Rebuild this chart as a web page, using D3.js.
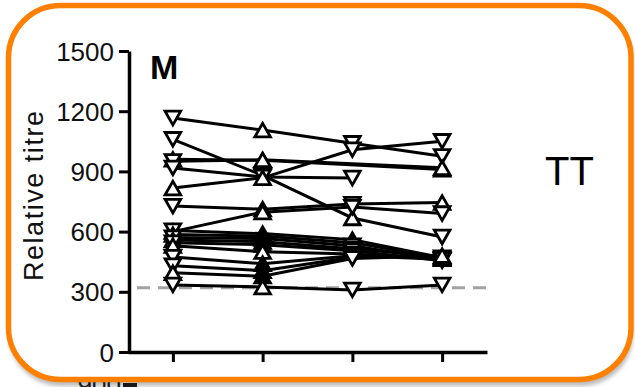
<!DOCTYPE html>
<html>
<head>
<meta charset="utf-8">
<script src="https://cdn.jsdelivr.net/npm/d3@7"></script>
<style>
  html, body { margin: 0; padding: 0; background: #ffffff; }
  svg { display: block; }
  text { font-family: "Liberation Sans", Arial, Helvetica, sans-serif; }
</style>
</head>
<body>
<svg id="chart" width="635" height="387"></svg>
<script>
// ---------- data ----------
const timepoints = ["T1", "T2", "T3", "T4"];
const yTicks = [0, 300, 600, 900, 1200, 1500];
const cutoff = 320;
const panelLabel = "M";
const sideLabel = "TT";
const yTitle = "Relative titre";
const belowLabel = "900";

// one array per subject: relative titre at T1..T4 (null = not measured)
const s01 = [1166, 1106, 1040, 975];
const s02 = [1060, 880, 668, 573];
const s03 = [960, 955, null, 910];
const s04 = [950, 958, null, 918];
const s05 = [917, 872, 867, null];
const s06 = [817, 868, 1008, 1050];
const s07 = [727, 712, 737, 745];
const s08 = [600, 697, 722, 690];
const s09 = [605, 590, 560, 470];
const s10 = [585, 578, 545, 468];
const s11 = [570, 565, 530, 458];
const s12 = [558, 550, 515, 475];
const s13 = [545, 535, 505, 455];
const s14 = [530, 500, 488, 465];
const s15 = [473, 440, 480, 462];
const s16 = [430, 405, 472, null];
const s17 = [395, 378, 466, 480];
const s18 = [334, 324, 309, 334];
const subjects = [s01, s02, s03, s04, s05, s06, s07, s08, s09, s10, s11, s12, s13, s14, s15, s16, s17, s18];
// symbol per point: v = open down-triangle, a = open up-triangle, A = filled up-triangle
const symbols = ["vavv", "vvav", "aaaa", "vava", "vvvv", "aavv", "vava", "aavv",
                 "vAav", "aAaa", "vAvv", "aAva", "vAvv", "aavA", "vAvv", "vAvv", "aAva", "vavv"];

// ---------- drawing ----------
const svg = d3.select("#chart");
const defs = svg.append("defs");
const blur = defs.append("filter").attr("id", "shadow")
  .attr("x", "-10%").attr("y", "-10%").attr("width", "120%").attr("height", "130%");
blur.append("feGaussianBlur").attr("stdDeviation", 2);

// card shadow
svg.append("rect")
  .attr("x", 9).attr("y", 10).attr("width", 624).attr("height", 376)
  .attr("rx", 52).attr("ry", 52)
  .attr("fill", "#b9b9b9").attr("filter", "url(#shadow)");

// partly hidden label of the panel below
svg.append("text")
  .attr("x", 121).attr("y", 394)
  .attr("text-anchor", "end")
  .attr("font-size", 26).attr("fill", "#1a1a1a")
  .text(belowLabel);
svg.append("line")
  .attr("x1", 123).attr("x2", 137).attr("y1", 385).attr("y2", 385)
  .attr("stroke", "#1a1a1a").attr("stroke-width", 4);

// card
svg.append("rect")
  .attr("x", 8.5).attr("y", 5.5).attr("width", 622.5).attr("height", 374)
  .attr("rx", 52).attr("ry", 52)
  .attr("fill", "#ffffff").attr("stroke", "#ff8000").attr("stroke-width", 5.5);

const x = d3.scalePoint().domain(timepoints).range([128, 487]).padding(0.5);
const y = d3.scaleLinear().domain([0, 1500]).range([352, 51]);

// cutoff dashed line
svg.append("line")
  .attr("x1", 137).attr("x2", 486)
  .attr("y1", y(cutoff)).attr("y2", y(cutoff))
  .attr("stroke", "#a3a3a3").attr("stroke-width", 3)
  .attr("stroke-dasharray", "13,8");

// axes
const yAxis = svg.append("g")
  .attr("transform", "translate(129,0)")
  .call(d3.axisLeft(y).tickValues(yTicks).tickFormat(d3.format("d"))
        .tickSize(10).tickSizeOuter(0).tickPadding(5));
yAxis.select(".domain").attr("stroke", "#000").attr("stroke-width", 3.5);
yAxis.selectAll(".tick line").attr("stroke", "#000").attr("stroke-width", 3);
yAxis.selectAll(".tick text")
  .attr("font-size", 26).attr("fill", "#111")
  .attr("font-family", "'Liberation Sans', Arial, sans-serif")
  .attr("dy", "0.35em");

const xAxis = svg.append("g")
  .attr("transform", "translate(0,352)")
  .call(d3.axisBottom(x).tickSize(10).tickSizeOuter(0).tickFormat(""));
xAxis.select(".domain").attr("stroke", "#000").attr("stroke-width", 3.5);
xAxis.selectAll(".tick line").attr("stroke", "#000").attr("stroke-width", 3);

// y title
svg.append("text")
  .attr("transform", "translate(43,196) rotate(-90)")
  .attr("text-anchor", "middle")
  .attr("font-size", 27).attr("fill", "#111")
  .attr("textLength", 170).attr("lengthAdjust", "spacing")
  .text(yTitle);

// panel label
svg.append("text")
  .attr("x", 150).attr("y", 79)
  .attr("font-size", 34).attr("font-weight", "bold").attr("fill", "#000")
  .text(panelLabel);

// side label
svg.append("text")
  .attr("x", 545).attr("y", 185)
  .attr("font-size", 40).attr("fill", "#000")
  .text(sideLabel);

// data lines
const pts = subjects.map((vals, i) =>
  vals.map((v, j) => ({ t: timepoints[j], v: v, s: symbols[i][j] })).filter(d => d.v !== null));

const line = d3.line().x(d => x(d.t)).y(d => y(d.v));
svg.append("g").selectAll("path")
  .data(pts).join("path")
  .attr("d", line)
  .attr("fill", "none").attr("stroke", "#000").attr("stroke-width", 3);

// markers
function tri(d) {
  const w = 7.8, h = 6.8;
  const p = d3.path();
  if (d.s === "v" || d.s === "V") {
    p.moveTo(-w, -h); p.lineTo(w, -h); p.lineTo(0, h); p.closePath();
  } else {
    p.moveTo(-w, h); p.lineTo(w, h); p.lineTo(0, -h); p.closePath();
  }
  return p.toString();
}
svg.append("g").selectAll("g")
  .data(pts).join("g")
  .selectAll("path")
  .data(d => d).join("path")
  .attr("transform", d => `translate(${x(d.t)},${y(d.v)})`)
  .attr("d", tri)
  .attr("fill", d => (d.s === "A" || d.s === "V") ? "#000" : "#fff")
  .attr("stroke", "#000").attr("stroke-width", 2.8)
  .attr("stroke-linejoin", "miter");
</script>
</body>
</html>
